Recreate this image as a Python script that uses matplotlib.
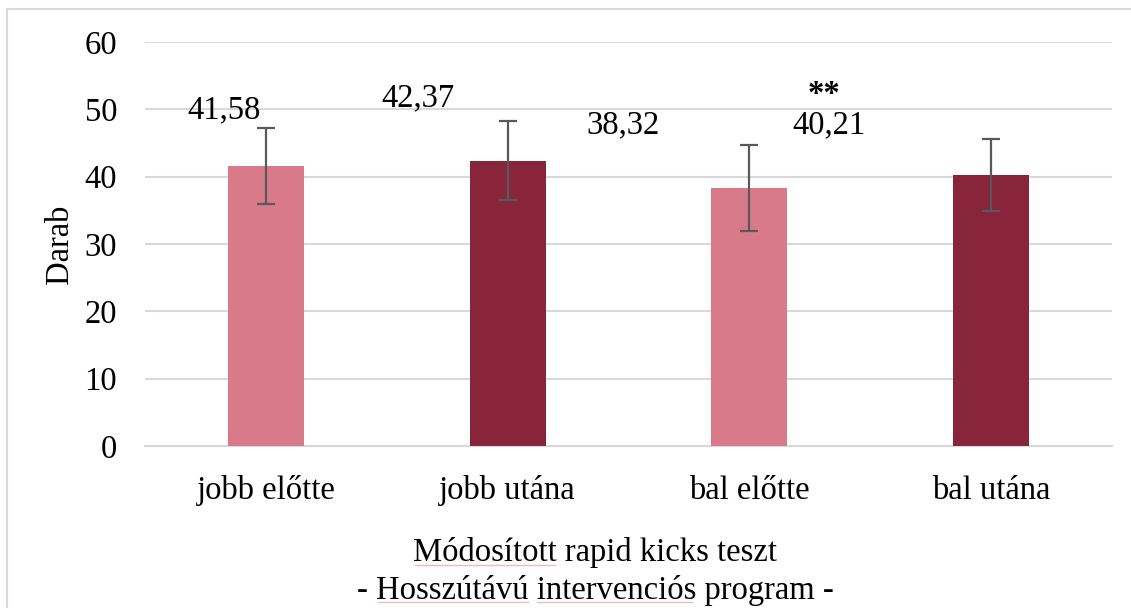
import matplotlib
matplotlib.use("Agg")
import matplotlib.pyplot as plt
from matplotlib.patches import Rectangle
from matplotlib.lines import Line2D

categories = ["jobb előtte", "jobb utána", "bal előtte", "bal utána"]
values = [41.58, 42.37, 38.32, 40.21]
errors = [5.7, 5.9, 6.4, 5.35]
label_texts = ["41,58", "42,37", "38,32", "40,21"]
label_x = [-0.174, 0.629, 1.477, 2.331]
label_y = [48.67, 50.5, 46.5, 46.4]
sig_text = "**"
sig_pos = (2.31, 50.95)
colors = ["#D97A8B", "#88253A", "#D97A8B", "#88253A"]
yticks = [0, 10, 20, 30, 40, 50, 60]

plt.rcParams['font.family'] = ['Liberation Serif', 'DejaVu Serif']
FS = 23.5
W, H = 1131, 608
fig = plt.figure(figsize=(W / 100, H / 100), dpi=100)
ax = fig.add_axes([145 / W, 1 - 446 / H, (1112 - 145) / W, (446 - 42) / H])

x = range(len(categories))
ax.bar(x, values, width=0.314, color=colors, zorder=3)
ax.errorbar(x, values, yerr=errors, fmt='none', ecolor='#595959',
            elinewidth=1.6, capsize=6.5, capthick=1.6, zorder=4)

for t, lx, ly in zip(label_texts, label_x, label_y):
    ax.text(lx, ly, t, ha='center', va='baseline', fontsize=FS, color='black', zorder=5)
ax.text(sig_pos[0], sig_pos[1], sig_text, ha='center', va='baseline', fontsize=FS,
        fontweight='bold', color='black', zorder=5)

ax.set_ylim(0, 60)
ax.set_xlim(-0.5, 3.5)
ax.set_yticks(yticks)
ax.set_xticks(list(x))
ax.set_xticklabels(categories)
ax.tick_params(axis='both', length=0, labelsize=FS)
ax.tick_params(axis='y', pad=20)
ax.tick_params(axis='x', pad=21)
ax.grid(axis='y', color='#D9D9D9', linewidth=1.5, zorder=0)
for s in ['top', 'right', 'left']:
    ax.spines[s].set_visible(False)
ax.spines['bottom'].set_color('#D9D9D9')
ax.spines['bottom'].set_linewidth(1.5)
ax.set_ylabel("Darab", fontsize=FS, labelpad=7)

fig.text(595 / W, 1 - 553 / H, "Módosított rapid kicks teszt", ha='center', va='center', fontsize=FS)
fig.text(595 / W, 1 - 590 / H, "- Hosszútávú intervenciós program -", ha='center', va='center', fontsize=FS)

# faint spell-check underlines seen in the reference
for (x0, x1, yy) in [(415, 555, 565), (378, 528, 602), (537, 692, 602)]:
    fig.add_artist(Line2D([x0 / W, x1 / W], [1 - yy / H, 1 - yy / H], transform=fig.transFigure,
                          color='#F2B8B8', linewidth=1.0))

fig.patches.append(Rectangle((7 / W, -0.1), 1.2, 1 - 9 / H + 0.1, transform=fig.transFigure,
                             fill=False, edgecolor='#D9D9D9', linewidth=1.5))

fig.savefig("out.png", dpi=100)
